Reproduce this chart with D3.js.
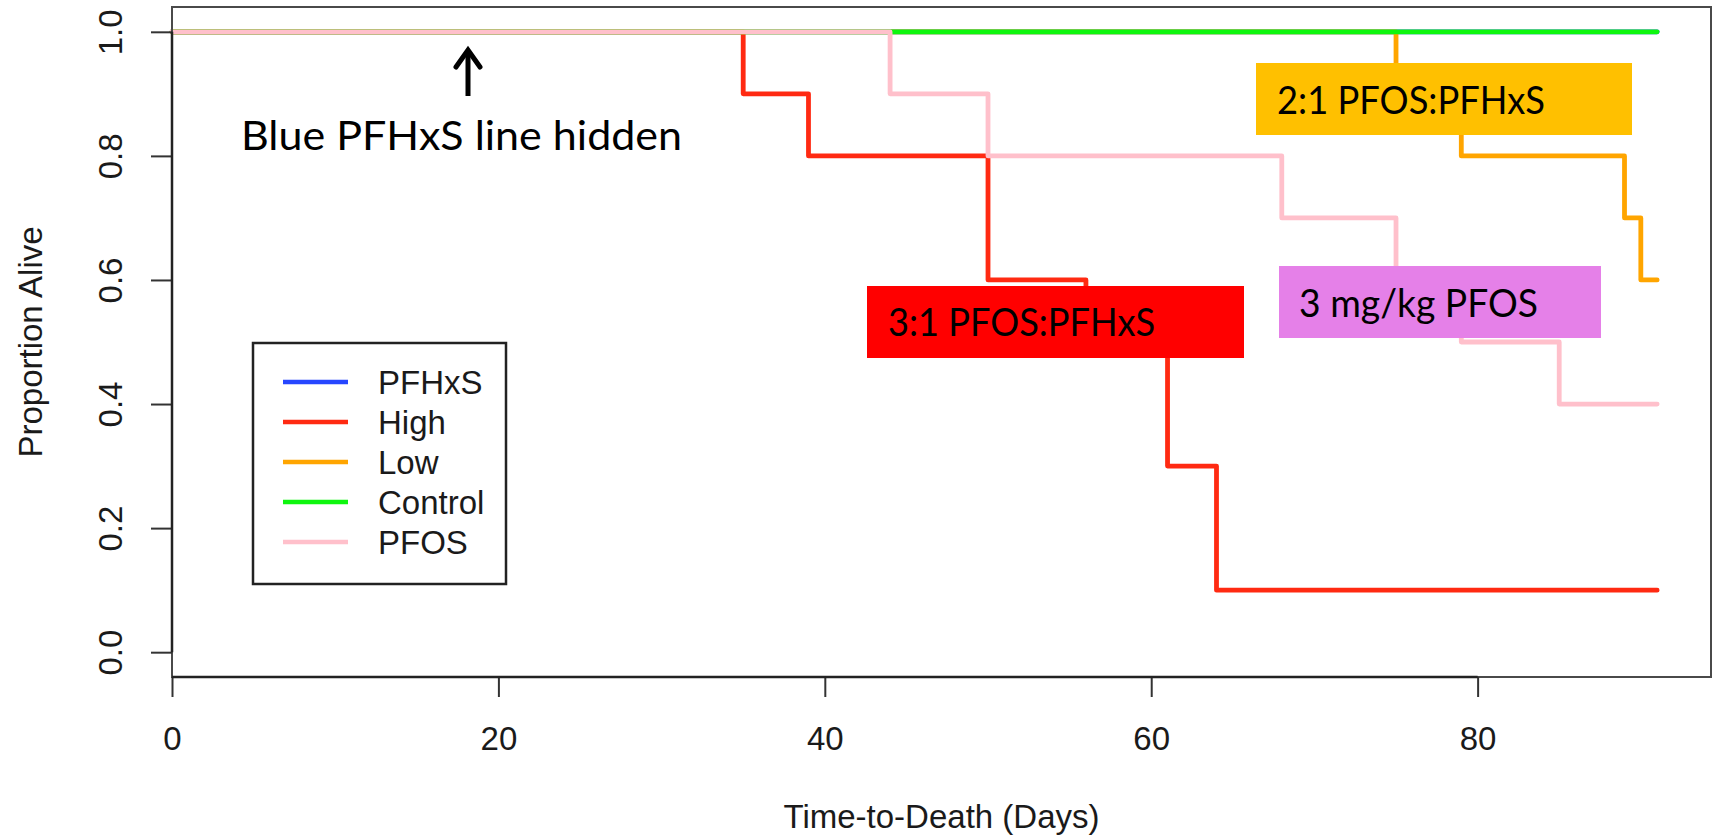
<!DOCTYPE html>
<html>
<head>
<meta charset="utf-8">
<script src="https://cdn.jsdelivr.net/npm/d3@7/dist/d3.min.js"></script>
<style>
  html, body { margin: 0; padding: 0; background: #fff; }
  svg { display: block; }
</style>
</head>
<body>
<svg id="chart" width="1713" height="839"></svg>
<script>
// Kaplan-Meier survival curves by treatment group
const groups = ["PFHxS", "High", "Low", "Control", "PFOS"];
const groupColors = ["#2646ff", "#ff2a12", "#ffa500", "#0ef60e", "#ffc0cb"];

// step times (days) and proportion alive after each step
const pfhxsDays = [0];
const pfhxsSurv = [1.0];
const highDays = [0, 35, 39, 50, 56, 61, 64];
const highSurv = [1.0, 0.9, 0.8, 0.6, 0.5, 0.3, 0.1];
const lowDays = [0, 75, 79, 89, 90];
const lowSurv = [1.0, 0.9, 0.8, 0.7, 0.6];
const controlDays = [0];
const controlSurv = [1.0];
const pfosDays = [0, 44, 50, 68, 75, 79, 85];
const pfosSurv = [1.0, 0.9, 0.8, 0.7, 0.6, 0.5, 0.4];
const endDay = 91;

const xTicks = [0, 20, 40, 60, 80];
const yTicks = [0.0, 0.2, 0.4, 0.6, 0.8, 1.0];
const xTitle = "Time-to-Death (Days)";
const yTitle = "Proportion Alive";

const notes = [
  { text: "2:1 PFOS:PFHxS", fill: "#ffc000" },
  { text: "3:1 PFOS:PFHxS", fill: "#ff0000" },
  { text: "3 mg/kg PFOS", fill: "#e580e8" }
];
const hiddenNote = "Blue PFHxS line hidden";

// ---- layout ----
const plot = { left: 172, right: 1711, top: 7, bottom: 677 };
const rFont = "'Liberation Sans', Arial, Helvetica, sans-serif";
const noteFont = "Lato, 'Open Sans', sans-serif";

const svg = d3.select("#chart");

const x = d3.scaleLinear().domain([0, 94.3]).range([plot.left, plot.right]);
const y = d3.scaleLinear().domain([-0.04, 1.04]).range([plot.bottom, plot.top]);

const series = [
  { name: groups[0], color: groupColors[0], days: pfhxsDays, surv: pfhxsSurv },
  { name: groups[1], color: groupColors[1], days: highDays, surv: highSurv },
  { name: groups[2], color: groupColors[2], days: lowDays, surv: lowSurv },
  { name: groups[3], color: groupColors[3], days: controlDays, surv: controlSurv },
  { name: groups[4], color: groupColors[4], days: pfosDays, surv: pfosSurv }
];

const line = d3.line()
  .x(d => x(d[0]))
  .y(d => y(d[1]))
  .curve(d3.curveStepAfter);

// survival curves, drawn in legend order so PFOS sits on top
svg.append("g")
  .selectAll("path")
  .data(series)
  .join("path")
  .attr("d", s => {
    const pts = s.days.map((d, i) => [d, s.surv[i]]);
    pts.push([endDay, s.surv[s.surv.length - 1]]);
    return line(pts);
  })
  .attr("fill", "none")
  .attr("stroke", s => s.color)
  .attr("stroke-width", 4.8)
  .attr("stroke-linejoin", "round")
  .attr("stroke-linecap", "round");

// plot frame
svg.append("rect")
  .attr("x", plot.left).attr("y", plot.top)
  .attr("width", plot.right - plot.left).attr("height", plot.bottom - plot.top)
  .attr("fill", "none").attr("stroke", "#4a4a4a").attr("stroke-width", 2);

// x axis
const xAxis = svg.append("g")
  .attr("transform", `translate(0,${plot.bottom})`)
  .call(d3.axisBottom(x).tickValues(xTicks).tickFormat(d3.format("d")).tickSize(20).tickPadding(30));
xAxis.select(".domain").remove();
xAxis.selectAll(".tick line").attr("stroke", "#333").attr("stroke-width", 2);
xAxis.selectAll(".tick text")
  .attr("font-family", rFont).attr("font-size", 33).attr("fill", "#1a1a1a");
xAxis.append("line")
  .attr("x1", x(xTicks[0])).attr("x2", x(xTicks[xTicks.length - 1]))
  .attr("stroke", "#222").attr("stroke-width", 2.5);

// y axis with labels parallel to the axis
const yAxis = svg.append("g")
  .attr("transform", `translate(${plot.left},0)`)
  .call(d3.axisLeft(y).tickValues(yTicks).tickFormat(d3.format(".1f")).tickSize(21));
yAxis.select(".domain").remove();
yAxis.selectAll(".tick line").attr("stroke", "#333").attr("stroke-width", 2);
yAxis.selectAll(".tick text")
  .attr("x", 0).attr("dy", 0)
  .attr("text-anchor", "middle")
  .attr("transform", "translate(-50,0) rotate(-90)")
  .attr("font-family", rFont).attr("font-size", 33).attr("fill", "#1a1a1a");
yAxis.append("line")
  .attr("y1", y(yTicks[0])).attr("y2", y(yTicks[yTicks.length - 1]))
  .attr("stroke", "#222").attr("stroke-width", 2.5);

// axis titles
svg.append("text")
  .attr("x", (plot.left + plot.right) / 2).attr("y", 828)
  .attr("text-anchor", "middle")
  .attr("font-family", rFont).attr("font-size", 33).attr("fill", "#1a1a1a")
  .text(xTitle);
svg.append("text")
  .attr("transform", `translate(42,${(plot.top + plot.bottom) / 2}) rotate(-90)`)
  .attr("text-anchor", "middle")
  .attr("font-family", rFont).attr("font-size", 33).attr("fill", "#1a1a1a")
  .text(yTitle);

// legend
const legend = svg.append("g");
legend.append("rect")
  .attr("x", 253).attr("y", 343).attr("width", 253).attr("height", 241)
  .attr("fill", "#fff").attr("stroke", "#222").attr("stroke-width", 2.5);
const rows = legend.selectAll("g.row").data(series).join("g")
  .attr("class", "row")
  .attr("transform", (s, i) => `translate(0,${382 + i * 40})`);
rows.append("line")
  .attr("x1", 283).attr("x2", 348)
  .attr("stroke", s => s.color).attr("stroke-width", 4.5);
rows.append("text")
  .attr("x", 378).attr("y", 12)
  .attr("font-family", rFont).attr("font-size", 33).attr("fill", "#1a1a1a")
  .text(s => s.name);

// group call-out labels
const noteLayout = [
  { x: 1256, y: 63, w: 376, h: 72, tx: 1277, ty: 114, len: 268 },
  { x: 867, y: 286, w: 377, h: 72, tx: 888, ty: 336, len: 267 },
  { x: 1279, y: 266, w: 322, h: 72, tx: 1299, ty: 317, len: 239 }
];
const noteG = svg.append("g").selectAll("g").data(notes).join("g");
noteG.append("rect")
  .attr("x", (d, i) => noteLayout[i].x).attr("y", (d, i) => noteLayout[i].y)
  .attr("width", (d, i) => noteLayout[i].w).attr("height", (d, i) => noteLayout[i].h)
  .attr("fill", d => d.fill);
noteG.append("text")
  .attr("x", (d, i) => noteLayout[i].tx).attr("y", (d, i) => noteLayout[i].ty)
  .attr("textLength", (d, i) => noteLayout[i].len).attr("lengthAdjust", "spacingAndGlyphs")
  .attr("font-family", noteFont).attr("font-size", 39).attr("fill", "#000")
  .text(d => d.text);

// arrow pointing at the overlapped PFHxS curve
const arrow = svg.append("g")
  .attr("stroke", "#000").attr("stroke-width", 5).attr("fill", "none");
arrow.append("line").attr("x1", 468).attr("x2", 468).attr("y1", 52).attr("y2", 96);
arrow.append("polyline")
  .attr("points", "456,67 468,50 480,67")
  .attr("stroke-linejoin", "miter").attr("stroke-linecap", "round");
svg.append("text")
  .attr("x", 241).attr("y", 150)
  .attr("textLength", 441).attr("lengthAdjust", "spacingAndGlyphs")
  .attr("font-family", noteFont).attr("font-size", 41).attr("fill", "#000")
  .text(hiddenNote);
</script>
</body>
</html>
